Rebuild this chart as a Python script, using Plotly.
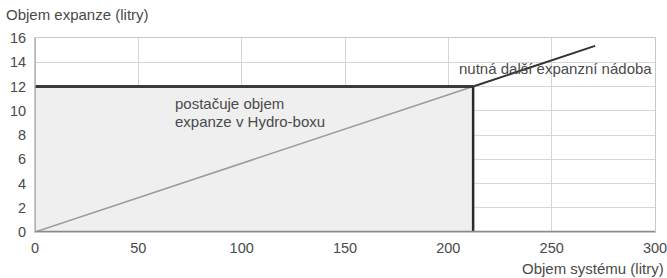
import plotly.graph_objects as go

# data
system_volume = [0, 212, 271]          # litry
expansion_volume = [0, 12, 15.35]      # litry
limit_x = 212
limit_y = 12
x_ticks = [0, 50, 100, 150, 200, 250, 300]
y_ticks = [0, 2, 4, 6, 8, 10, 12, 14, 16]

font = "Liberation Sans, Arial, sans-serif"
txt = "#4a4a4a"
fs = 15
tfs = 14.5

fig = go.Figure()
# shaded region
fig.add_trace(go.Scatter(x=[0, limit_x, limit_x, 0, 0], y=[0, 0, limit_y, limit_y, 0],
                         fill="toself", fillcolor="#efefef", line=dict(width=0),
                         mode="lines", hoverinfo="skip", showlegend=False))
# diagonal inside region (light)
fig.add_trace(go.Scatter(x=system_volume[:2], y=expansion_volume[:2], mode="lines",
                         line=dict(color="#9a9a9a", width=1.5), showlegend=False))
# diagonal outside region (dark)
fig.add_trace(go.Scatter(x=system_volume[1:], y=expansion_volume[1:], mode="lines",
                         line=dict(color="#333333", width=2), showlegend=False))
# horizontal limit
fig.add_trace(go.Scatter(x=[0, limit_x], y=[limit_y, limit_y], mode="lines",
                         line=dict(color="#3a3a3a", width=3), showlegend=False))
# vertical limit
fig.add_trace(go.Scatter(x=[limit_x, limit_x], y=[0, limit_y], mode="lines",
                         line=dict(color="#2a2a2a", width=2.5), showlegend=False))

fig.add_annotation(x=0, y=1, xref="paper", yref="paper", xshift=-31, yshift=34,
                   text="Objem expanze (litry)", showarrow=False, xanchor="left", yanchor="top",
                   font=dict(family=font, size=fs, color=txt))
fig.add_annotation(x=1, y=0, xref="paper", yref="paper", xshift=11, yshift=-26,
                   text="Objem systému (litry)", showarrow=False, xanchor="right", yanchor="top",
                   font=dict(family=font, size=fs, color=txt))
fig.add_annotation(x=67, y=10.56, text="postačuje objem", showarrow=False,
                   xanchor="left", yanchor="middle", align="left",
                   font=dict(family=font, size=fs, color=txt))
fig.add_annotation(x=67, y=9.15, text="expanze v Hydro-boxu", showarrow=False,
                   xanchor="left", yanchor="middle", align="left",
                   font=dict(family=font, size=fs, color=txt))
fig.add_annotation(x=204, y=13.45, text="nutná další expanzní nádoba", showarrow=False,
                   xanchor="left", yanchor="middle", align="left",
                   font=dict(family=font, size=fs, color=txt))

fig.update_layout(
    width=667, height=278, autosize=False,
    margin=dict(l=35, r=12, t=38, b=46, autoexpand=False),
    paper_bgcolor="white", plot_bgcolor="white",
    font=dict(family=font, size=tfs, color=txt),
    xaxis=dict(range=[0, 300], tickvals=x_ticks, showgrid=True, gridcolor="#d6d6d6", gridwidth=1,
               zeroline=False, showline=True, linecolor="#c8c8c8", linewidth=1, mirror=True,
               ticks="", tickfont=dict(size=tfs, color=txt), ticklabeloverflow="allow",
               ticklabelstandoff=3, automargin=False),
    yaxis=dict(range=[0, 16], tickvals=y_ticks, showgrid=True, gridcolor="#d6d6d6", gridwidth=1,
               zeroline=False, showline=True, linecolor="#c8c8c8", linewidth=1, mirror=True,
               ticks="", tickfont=dict(size=tfs, color=txt), ticklabelstandoff=5,
               automargin=False),
)
# bottom axis line darker
fig.add_shape(type="line", xref="paper", yref="y", x0=0, x1=1, y0=0, y1=0,
              line=dict(color="#8a8a8a", width=2.5))
fig.add_shape(type="line", xref="x", yref="paper", x0=0, x1=0, y0=0, y1=1,
              line=dict(color="#a0a0a0", width=1.5))

fig.write_html("out.html",
               config={"responsive": False, "displayModeBar": False},
               default_width="667px", default_height="278px",
               post_script="document.body.style.margin='0';document.body.style.overflow='hidden';")
